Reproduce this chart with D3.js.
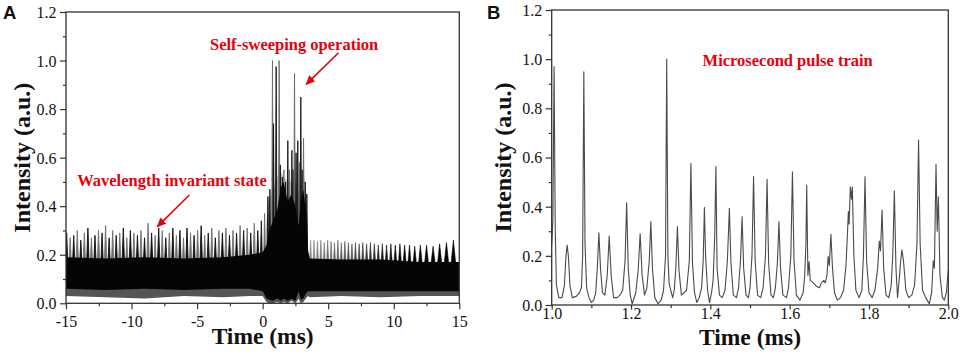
<!DOCTYPE html>
<html><head><meta charset="utf-8">
<script src="https://cdn.jsdelivr.net/npm/d3@7"></script>
<style>body{margin:0;background:#fff}svg{display:block}</style>
</head><body>
<svg id="c" width="962" height="354"></svg>
<script>
// ---------- Panel A data ----------
const envTimeA  = [-15,-12,-9,-6,-3,-1,0,0.3,0.5,0.8,1.1,1.4,1.6,1.9,2.2,2.5,2.75,2.9,3.1,3.3,3.45,3.6,6,9,12,15];
const coreHighA = [0.19,0.185,0.19,0.185,0.19,0.2,0.21,0.24,0.3,0.34,0.38,0.48,0.5,0.42,0.45,0.4,0.32,0.42,0.47,0.38,0.22,0.185,0.18,0.18,0.17,0.17];
const coreLowA  = [0.06,0.055,0.06,0.055,0.06,0.06,0.05,0.02,0.015,0.01,0.02,0.01,0.02,0.01,0.02,0.01,0.05,0.015,0.02,0.04,0.05,0.05,0.05,0.05,0.05,0.05];
const noiseLowA = [0.03,0.025,0.02,0.03,0.025,0.03,0.03,0.005,0.0,0.0,0.005,0.0,0.005,0.0,0.01,0.0,0.02,0.0,0.005,0.02,0.03,0.025,0.03,0.025,0.03,0.03];
const grayTimeA = [0.25,0.4,0.6,1.0,1.3,1.6,2.0,2.4,2.8,3.1,3.35,3.45];
const grayHighA = [0.3,0.42,0.44,0.5,0.55,0.52,0.5,0.5,0.45,0.55,0.45,0.25];

const spikeTimeA1 = [-14.95,-14.68,-14.41,-14.14,-13.87,-13.6,-13.33,-13.06,-12.79,-12.52,-12.25,-11.98,-11.71,-11.44,-11.17,-10.9,-10.63,-10.36,-10.09,-9.82,-9.55,-9.28,-9.01,-8.74,-8.47,-8.2,-7.93,-7.66,-7.39,-7.12,-6.85,-6.58,-6.31,-6.04,-5.77,-5.5,-5.23,-4.96,-4.69,-4.42,-4.15,-3.88,-3.61,-3.34,-3.07,-2.8,-2.53,-2.26,-1.99,-1.72,-1.45,-1.18,-0.91,-0.64,-0.37];
const spikePeakA1 = [0.29,0.27,0.28,0.3,0.26,0.29,0.31,0.27,0.28,0.3,0.29,0.32,0.27,0.3,0.28,0.29,0.31,0.27,0.3,0.29,0.28,0.3,0.27,0.33,0.29,0.28,0.31,0.3,0.27,0.29,0.31,0.28,0.3,0.27,0.31,0.29,0.28,0.3,0.32,0.28,0.29,0.31,0.27,0.3,0.29,0.31,0.28,0.3,0.29,0.32,0.3,0.31,0.29,0.33,0.3];
const spikeTimeA2 = [-0.1,0.15,0.4,0.55,0.75,0.83,1.03,1.26,1.35,1.5,1.62,1.75,1.92,2.05,2.23,2.32,2.43,2.55,2.68,2.8,2.91,3.02,3.12,3.25,3.37];
const spikePeakA2 = [0.34,0.37,0.44,0.47,1.0,0.74,0.975,1.0,0.57,0.52,0.55,0.5,0.67,0.55,0.63,0.55,0.947,0.62,0.67,0.58,0.85,0.55,0.68,0.5,0.45];
const spikeTimeA3 = [3.66,3.92,4.18,4.44,4.7,4.96,5.22,5.48,5.74,6.0,6.27,6.54,6.81,7.08,7.36,7.64,7.93,8.22,8.52,8.82,9.13,9.45,9.78,10.12,10.47,10.83,11.2,11.6,12.03,12.5,13.0,13.5,14.02,14.55];
const spikePeakA3 = [0.26,0.26,0.255,0.26,0.25,0.26,0.255,0.25,0.26,0.25,0.255,0.25,0.245,0.25,0.245,0.25,0.245,0.25,0.245,0.24,0.245,0.24,0.245,0.24,0.245,0.24,0.24,0.235,0.24,0.24,0.235,0.245,0.25,0.26];

const xTicksA = [-15,-10,-5,0,5,10,15];
const xMinorA = [-12.5,-7.5,-2.5,2.5,7.5,12.5];
const yTicks  = [0,0.2,0.4,0.6,0.8,1.0,1.2];
const yMinor  = [0.1,0.3,0.5,0.7,0.9,1.1];

// ---------- Panel B data ----------
const timeB = [1.000,1.003,1.006,1.009,1.012,1.018,1.026,1.032,1.036,1.039,1.042,1.046,1.052,1.062,1.07,
1.075,1.078,1.081,1.084,1.088,1.094,1.1,1.106,1.111,1.115,1.119,1.123,1.128,1.134,1.14,1.145,1.15,1.156,1.165,1.172,
1.179,1.185,1.189,1.193,1.198,1.203,1.212,1.218,1.223,1.228,1.234,1.24,1.246,1.25,1.254,1.26,1.268,1.276,
1.282,1.287,1.29,1.293,1.296,1.3,1.305,1.309,1.313,1.317,1.321,1.327,1.34,1.347,1.351,1.355,1.36,1.366,1.372,
1.378,1.382,1.385,1.388,1.393,1.398,1.403,1.407,1.411,1.414,1.417,1.423,1.43,1.437,1.443,1.448,1.452,1.458,1.466,
1.471,1.476,1.48,1.484,1.49,1.496,1.5,1.505,1.509,1.513,1.519,1.527,1.533,1.539,1.543,1.547,1.553,1.559,
1.564,1.569,1.573,1.577,1.583,1.592,1.597,1.603,1.607,1.611,1.617,1.626,1.634,1.638,1.641,1.643,1.646,1.649,1.652,1.66,1.668,1.675,1.68,1.686,1.69,
1.694,1.697,1.7,1.704,1.708,1.713,1.72,1.728,1.736,1.742,1.746,1.748,1.75,1.753,1.756,1.758,1.762,1.767,1.775,1.782,
1.786,1.79,1.794,1.8,1.808,1.815,1.822,1.826,1.829,1.833,1.837,1.843,1.85,1.856,1.86,1.864,1.868,1.872,1.876,
1.88,1.883,1.887,1.893,1.9,1.908,1.915,1.921,1.925,1.929,1.935,1.943,1.952,1.958,1.962,1.965,1.969,1.972,1.975,1.979,1.985,1.99,1.995,2.0];
const intensityB = [0.24,0.35,0.97,0.3,0.08,0.03,0.03,0.08,0.2,0.244,0.2,0.08,0.03,0.035,0.05,
0.07,0.2,0.949,0.25,0.07,0.03,0.01,0.02,0.05,0.15,0.294,0.15,0.05,0.04,0.12,0.28,0.12,0.03,0.03,0.04,
0.06,0.18,0.416,0.15,0.04,0.005,0.05,0.14,0.29,0.12,0.04,0.07,0.18,0.339,0.15,0.03,0.005,0.02,
0.06,0.2,1.0,0.2,0.09,0.06,0.03,0.06,0.15,0.319,0.14,0.04,0.06,0.18,0.576,0.17,0.05,0.01,0.03,
0.07,0.18,0.397,0.2,0.06,0.01,0.05,0.1,0.28,0.563,0.15,0.04,0.03,0.06,0.18,0.393,0.17,0.04,0.03,
0.07,0.18,0.359,0.15,0.04,0.03,0.07,0.2,0.522,0.18,0.04,0.03,0.07,0.2,0.511,0.17,0.04,0.03,
0.07,0.17,0.339,0.15,0.04,0.03,0.07,0.2,0.542,0.18,0.04,0.02,0.05,0.12,0.25,0.488,0.12,0.176,0.1,0.09,0.075,0.07,0.09,0.1,0.09,
0.12,0.197,0.16,0.288,0.15,0.05,0.02,0.03,0.06,0.16,0.3,0.38,0.33,0.481,0.43,0.48,0.2,0.06,0.03,0.06,
0.2,0.522,0.18,0.05,0.03,0.06,0.15,0.26,0.22,0.386,0.15,0.04,0.03,0.08,0.2,0.465,0.15,0.03,0.1,
0.18,0.224,0.18,0.06,0.03,0.04,0.08,0.25,0.671,0.25,0.06,0.03,0.005,0.05,0.18,0.15,0.572,0.3,0.44,0.12,0.03,0.02,0.05,0.14];
const xTicksB = [1.0,1.2,1.4,1.6,1.8,2.0];
const xMinorB = [1.1,1.3,1.5,1.7,1.9];

// ---------- drawing ----------
const svg = d3.select("#c");
const serif = "'Liberation Serif','Times New Roman',serif";
const red = "#e8000b";

svg.append("defs").append("marker").attr("id","ah").attr("viewBox","0 0 10 10")
  .attr("refX",9).attr("refY",5).attr("markerWidth",6).attr("markerHeight",6)
  .attr("markerUnits","strokeWidth").attr("orient","auto")
  .append("path").attr("d","M0,0.5 L10,5 L0,9.5 Z").attr("fill",red);

function axes(g, x, y, o) {
  const [x0,x1] = x.range(), [y0,y1] = y.range();
  const txt = sel => sel.style("font-family",serif).style("font-size","16px").attr("fill","#111");
  const xa = g.append("g").attr("transform",`translate(0,${y0})`)
    .call(d3.axisBottom(x).tickValues(o.xMajor).tickSize(o.xTick).tickFormat(o.xFmt));
  const xm = g.append("g").attr("transform",`translate(0,${y0})`)
    .call(d3.axisBottom(x).tickValues(o.xMinor).tickSize(3).tickFormat(""));
  const ya = g.append("g").attr("transform",`translate(${x0},0)`)
    .call(d3.axisLeft(y).tickValues(yTicks).tickSize(6).tickFormat(d3.format(".1f")));
  const ym = g.append("g").attr("transform",`translate(${x0},0)`)
    .call(d3.axisLeft(y).tickValues(yMinor).tickSize(3).tickFormat(""));
  [xa,xm,ya,ym].forEach(a => { a.select(".domain").remove(); a.selectAll("line").attr("stroke","#333").attr("stroke-width",1.2); });
  xa.selectAll("text").attr("y",o.xLabY).attr("dy",0).call(txt);
  ya.selectAll("text").attr("x",-9.5).attr("dy","0.34em").call(txt);
  g.append("rect").attr("x",x0).attr("y",y1).attr("width",x1-x0).attr("height",y0-y1)
    .attr("fill","none").attr("stroke","#333").attr("stroke-width",1.3);
  g.append("text").attr("x",(x0+x1)/2).attr("y",o.xTitleY).attr("text-anchor","middle")
    .style("font-family",serif).style("font-size","23.5px").style("font-weight","bold").attr("fill","#111").text("Time (ms)");
  g.append("text").attr("transform",`translate(${o.yTitleX},${(y0+y1)/2}) rotate(-90)`).attr("text-anchor","middle")
    .style("font-family",serif).style("font-size","24px").style("font-weight","bold").attr("fill","#111").text("Intensity (a.u.)");
  g.append("text").attr("x",o.letterX).attr("y",18.5).style("font-family","'Liberation Sans',Arial,sans-serif")
    .style("font-size","18.5px").style("font-weight","bold").attr("fill","#111").text(o.letter);
}

function annotate(g, x, y, label, t, v) {
  g.append("text").attr("x",x(t)).attr("y",y(v)).attr("text-anchor","middle")
    .style("font-family",serif).style("font-size","16.5px").style("font-weight","bold").attr("fill",red).text(label);
}
function arrow(g, x, y, t0, v0, t1, v1) {
  g.append("line").attr("x1",x(t0)).attr("y1",y(v0)).attr("x2",x(t1)).attr("y2",y(v1))
    .attr("stroke",red).attr("stroke-width",1.6).attr("marker-end","url(#ah)");
}

// ---- Panel A ----
{
  const x = d3.scaleLinear().domain([-15,15]).range([66,459.3]);
  const y = d3.scaleLinear().domain([0,1.2]).range([303.3,12]);
  const g = svg.append("g");
  svg.append("clipPath").attr("id","clipA").append("rect").attr("x",66).attr("y",12).attr("width",393.3).attr("height",291.3);
  const p = g.append("g").attr("clip-path","url(#clipA)");
  const env = envTimeA.map((t,i)=>({t, hi:coreHighA[i], lo:coreLowA[i], nl:noiseLowA[i]}));
  // grey noise along lower edge
  p.append("path").attr("fill","#555")
    .attr("d", d3.area().x(d=>x(d.t)).y0(d=>y(d.nl)).y1(d=>y(d.lo)-3)(env));
  // grey haze in burst
  const gray = grayTimeA.map((t,i)=>({t, v:grayHighA[i]}));
  p.append("path").attr("fill","#a0a0a0").attr("opacity",0.6)
    .attr("d", d3.area().x(d=>x(d.t)).y0(y(0.15)).y1(d=>y(d.v))(gray));

  const tri = (t, v, w, b) => `M${x(t-w)},${y(b)}L${x(t)},${y(v)}L${x(t+w)},${y(b)}Z`;
  // segment 1 (grey ones first)
  const s1 = spikeTimeA1.map((t,i)=>({t, v:spikePeakA1[i], i})).sort((a,b)=>(b.i%2)-(a.i%2));
  p.selectAll(".s1").data(s1).join("path").attr("class","s1")
    .attr("d", d=>tri(d.t, d.v, 0.11, 0.14))
    .attr("fill", d=> d.i%2 ? "#707070" : "#111")
    .attr("stroke", d=> d.i%2 ? "#707070" : "#111").attr("stroke-width",0.9).attr("stroke-linejoin","bevel");
  // segment 3
  const s3 = spikeTimeA3.map((t,i,a)=>({t, v:spikePeakA3[i], gap: i ? t-a[i-1] : a[1]-a[0]}));
  const shade = d3.scaleLinear().domain([3.5,6.5,10]).range(["#8c8c8c","#505050","#0a0a0a"]);
  p.selectAll(".s3").data(s3).join("path").attr("class","s3")
    .attr("d", d=>tri(d.t, d.v, d.gap*0.42, 0.14))
    .attr("fill", d=>shade(d.t)).attr("stroke", d=>shade(d.t)).attr("stroke-width",0.6);
  // segment 2 (burst)
  const s2 = spikeTimeA2.map((t,i)=>({t, v:spikePeakA2[i], i}));
  p.selectAll(".s2").data(s2).join("path").attr("class","s2")
    .attr("d", d=>tri(d.t, d.v, 0.065, 0.2))
    .attr("fill", d=> d.i%3===1 ? "#6a6a6a" : "#151515")
    .attr("stroke", d=> d.i%3===1 ? "#6a6a6a" : "#151515").attr("stroke-width",0.9).attr("stroke-linejoin","bevel");
  // solid core on top
  p.append("path").attr("fill","#050505")
    .attr("d", d3.area().x(d=>x(d.t)).y0(d=>y(d.lo)).y1(d=>y(d.hi))(env));

  axes(g, x, y, {xMajor:xTicksA, xMinor:xMinorA, xFmt:d=>String(d), xTick:6, xLabY:23.5, xTitleY:343.5, yTitleX:30, letterX:3, letter:"A"});
  annotate(g, x, y, "Self-sweeping operation", 2.4, 1.043);
  annotate(g, x, y, "Wavelength invariant state", -6.91, 0.483);
  arrow(g, x, y, 5.79, 1.032, 3.32, 0.902);
  arrow(g, x, y, -5.59, 0.446, -8.03, 0.316);
}

// ---- Panel B ----
{
  const x = d3.scaleLinear().domain([1,2]).range([551.7,948.3]);
  const y = d3.scaleLinear().domain([0,1.2]).range([305,10]);
  const g = svg.append("g");
  svg.append("clipPath").attr("id","clipB").append("rect").attr("x",551.7).attr("y",10).attr("width",396.6).attr("height",295);
  const pts = timeB.map((t,i)=>[t, intensityB[i]]);
  g.append("g").attr("clip-path","url(#clipB)").append("path").datum(pts)
    .attr("fill","none").attr("stroke","#4a4a4a").attr("stroke-width",1.1).attr("stroke-linejoin","round")
    .attr("d", d3.line().x(d=>x(d[0])).y(d=>y(d[1])));
  axes(g, x, y, {xMajor:xTicksB, xMinor:xMinorB, xFmt:d3.format(".1f"), xTick:4.5, xLabY:14, xTitleY:345, yTitleX:511, letterX:487, letter:"B"});
  annotate(g, x, y, "Microsecond pulse train", 1.595, 0.972);
}
</script>
</body></html>
